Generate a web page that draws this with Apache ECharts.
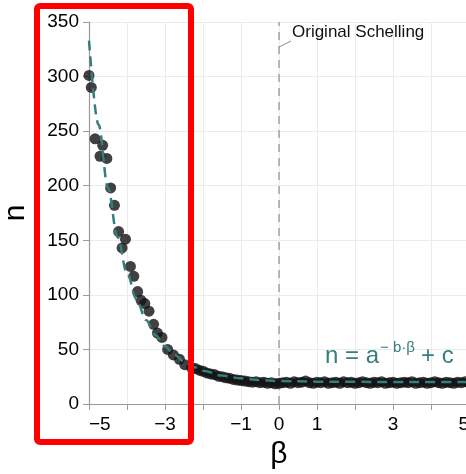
<!DOCTYPE html>
<html>
<head>
<meta charset="utf-8">
<script src="https://cdn.jsdelivr.net/npm/echarts@6/dist/echarts.min.js"></script>
<style>html,body{margin:0;padding:0;background:#fff;}#c{width:466px;height:474px;}</style>
</head>
<body>
<div id="c"></div>
<script>
// Observed simulation points (beta, n)
var betaPts = [-5.0,-4.94,-4.84,-4.71,-4.64,-4.53,-4.43,-4.33,-4.22,-4.13,-4.04,-3.91,-3.82,-3.72,-3.63,-3.53,-3.42,-3.30,-3.20,-3.08,-2.93,-2.78,-2.62,-2.48,-2.30,
  -2.2,-2.1,-2.0,-1.9,-1.8,-1.7,-1.6,-1.5,-1.4,-1.3,-1.2,-1.1,-1.0,-0.9,-0.8,-0.7,-0.6,-0.5,-0.4,-0.3,-0.2,-0.1,
  0.0,0.1,0.2,0.3,0.4,0.5,0.6,0.7,0.8,0.9,1.0,1.1,1.2,1.3,1.4,1.5,1.6,1.7,1.8,1.9,2.0,2.1,2.2,2.3,2.4,2.5,2.6,2.7,2.8,2.9,
  3.0,3.1,3.2,3.3,3.4,3.5,3.6,3.7,3.8,3.9,4.0,4.1,4.2,4.3,4.4,4.5,4.6,4.7,4.8,4.9,5.0];
var nPts = [301,290,243,227,237,225,198,182,158,143,151,126,117,103,95,92,85,73,65,61,50,45,41,36,33,
  32.5,31,30,28.5,27.5,27,25.5,25,24,23.5,22.5,22,21.5,21,20.5,20,20.5,19.5,20,19,19.5,18.5,
  19,19.5,20,19,20.5,19.5,20,21,19.5,19,20,19.5,20.5,19,19.5,20,19,20.5,19.5,20,19,19.5,20.5,19.5,19,20,19.5,20.5,19,19.5,
  20,19,19.5,20,19.5,20.5,19,19.5,20,19,19.5,20.5,19.5,19,20,19.5,19,20,19.5,20.5,19.5];
// Fitted curve n = a^(-b*beta) + c
var curveBeta = [-5,-4.75,-4.5,-4.25,-4,-3.75,-3.5,-3.25,-3,-2.75,-2.5,-2.25,-2,-1.5,-1,-0.5,0,1,2,3,4,5];
var curveN = [333,256,198,153,120,96,77,63,53,45,39,34,30.5,26,23.5,22,21,20.5,20.3,20.2,20.2,20.2];
// "Original Schelling" reference position
var refBeta = [0, 0];
var refN = [0, 350];
// Axis ticks
var yTicks = [0,50,100,150,200,250,300,350];
var xLabelShown = [-5,-3,-1,0,1,3,5];

var FONT = "'Liberation Sans', Arial, Helvetica, sans-serif";
var TEAL = '#347f7e';
var chart = echarts.init(document.getElementById('c'), null, {renderer:'canvas'});

var pts = betaPts.map(function(b,i){return [b, nPts[i]];});
var crv = curveBeta.map(function(b,i){return [b, curveN[i]];});
var ref = refBeta.map(function(b,i){return [b, refN[i]];});

chart.setOption({
  animation:false,
  backgroundColor:'#fff',
  grid:{left:89, top:22, width:380, height:382, containLabel:false, outerBoundsMode:'none'},
  xAxis:{
    type:'value', min:-5, max:5, interval:1,
    name:'β', nameLocation:'middle', nameGap:36,
    nameTextStyle:{fontSize:30, color:'#000', fontFamily:FONT},
    axisLine:{show:true, onZero:false, lineStyle:{color:'#9a9a9a', width:1.2}},
    axisTick:{show:true, length:6, lineStyle:{color:'#9a9a9a'}},
    axisLabel:{
      margin:11, fontSize:19, color:'#000', fontFamily:FONT,
      alignMinLabel:'left', alignMaxLabel:'right', hideOverlap:false,
      formatter:function(v){
        if(xLabelShown.indexOf(v)<0) return '';
        return String(v).replace('-', '\u2212');
      }
    },
    splitLine:{show:true, lineStyle:{color:'#ebebeb', width:1}}
  },
  yAxis:{
    type:'value', min:yTicks[0], max:yTicks[yTicks.length-1], interval:50,
    name:'n', nameLocation:'middle', nameGap:58, nameRotate:90,
    nameTextStyle:{fontSize:30, color:'#000', fontFamily:FONT},
    axisLine:{show:true, onZero:false, lineStyle:{color:'#9a9a9a', width:1.2}},
    axisTick:{show:true, length:6, lineStyle:{color:'#9a9a9a'}},
    axisLabel:{margin:10, fontSize:19, color:'#000', fontFamily:FONT},
    splitLine:{show:true, lineStyle:{color:'#ebebeb', width:1}}
  },
  series:[
    {
      type:'line', data:ref, showSymbol:false, z:1, silent:true,
      lineStyle:{color:'#8c8c8c', width:1.2, type:[8,6]}
    },
    {
      type:'scatter', data:pts, symbolSize:11, z:3,
      itemStyle:{color:'#111', opacity:0.8}
    },
    {
      type:'line', data:crv, showSymbol:false, smooth:0.35, smoothMonotone:'x', z:5,
      lineStyle:{color:TEAL, width:2.5, type:[10,6]}
    }
  ]
});

function px(v){return chart.convertToPixel({gridIndex:0}, v);}
var p0 = px([0, 350]);
chart.setOption({
  graphic:[
    {type:'line', shape:{x1:p0[0], y1:47, x2:p0[0]+12, y2:41}, style:{stroke:'#8c8c8c', lineWidth:1}, z:10},
    {type:'text', left:292, top:24, style:{text:'Original Schelling', font:'17px '+FONT, fill:'#111'}, z:10},
    {type:'text', left:325, top:344, style:{text:'n = a', font:'24px '+FONT, fill:TEAL}, z:10},
    {type:'text', left:380, top:340, style:{text:'\u2212 b·β', font:'15px '+FONT, fill:TEAL}, z:10},
    {type:'text', left:421, top:344, style:{text:'+ c', font:'24px '+FONT, fill:TEAL}, z:10},
    {type:'rect', shape:{x:37, y:6, width:154, height:436, r:3}, style:{stroke:'#ff0000', fill:'none', lineWidth:6}, z:20}
  ]
});
</script>
</body>
</html>
